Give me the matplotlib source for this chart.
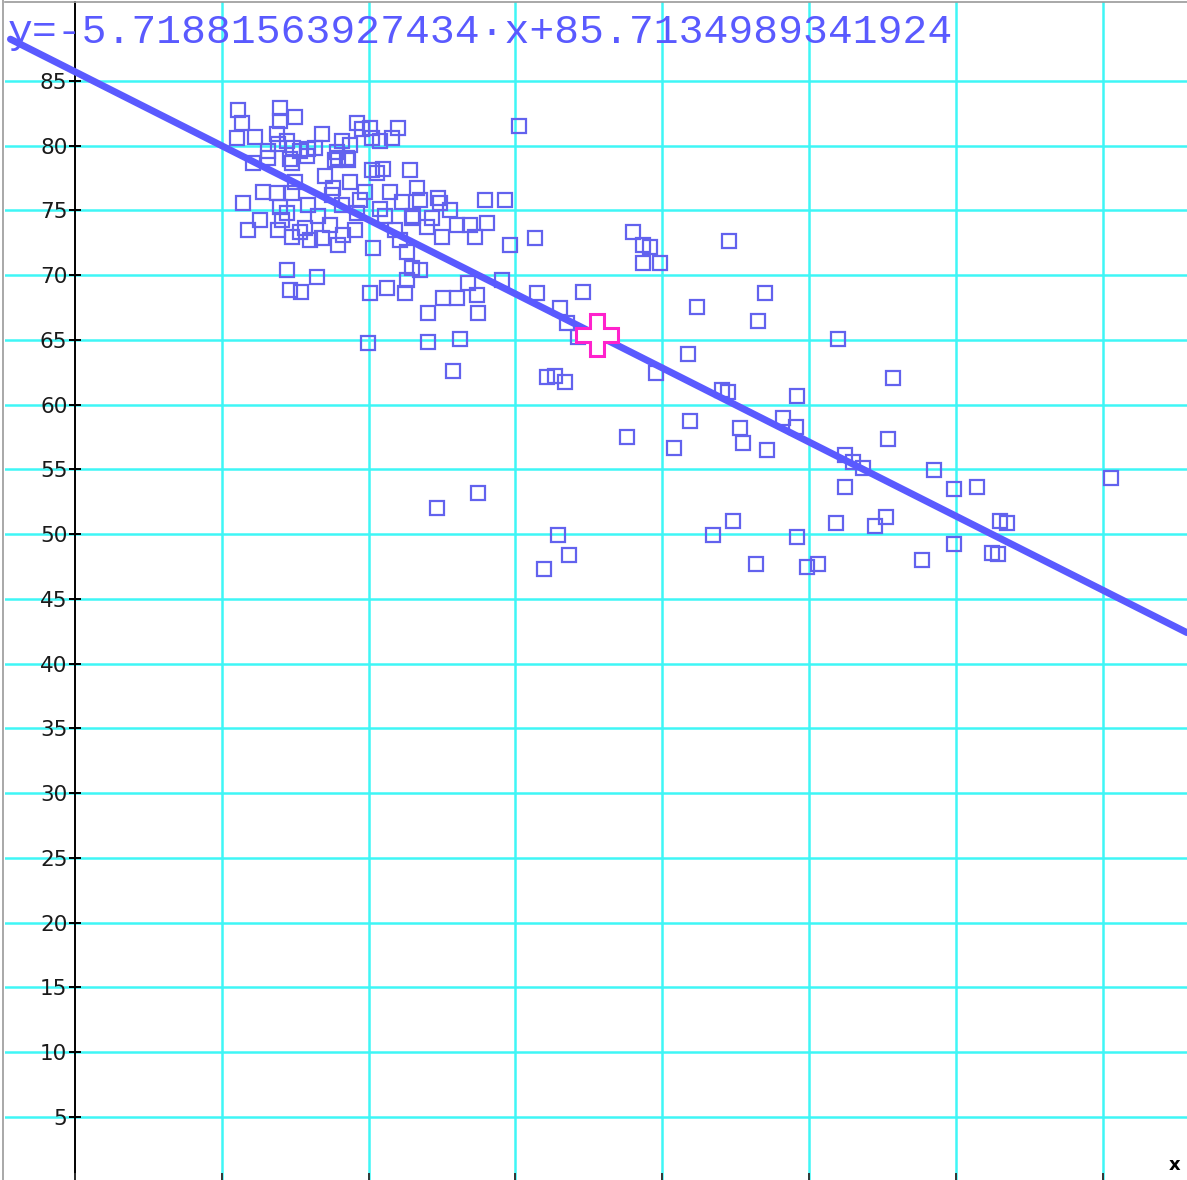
import matplotlib
matplotlib.use("Agg")
import matplotlib.pyplot as plt
from matplotlib.lines import Line2D

# ---- data ----
x_vals = [
    1.110, 1.396, 1.499, 1.138, 1.396, 1.104, 1.226, 1.376, 1.444, 1.383,
    1.485, 1.683, 1.635, 1.587, 1.580, 1.785, 1.819, 1.921, 1.955, 1.873,
    1.792, 1.853, 1.771, 1.860, 1.315, 1.465, 1.478, 2.023, 2.023, 1.376,
    1.478, 1.499, 1.757, 1.751, 1.975, 1.144, 1.396, 1.444, 1.587, 1.819,
    1.921, 1.410, 2.200, 2.159, 2.078, 2.010, 3.025, 2.098, 2.057, 2.282,
    2.330, 2.146, 2.228, 2.473, 2.486, 2.555, 2.078, 2.793, 2.929, 2.302,
    2.807, 1.178, 1.260, 1.383, 1.478, 1.567, 1.683, 1.826, 1.792, 1.444,
    1.649, 1.465, 1.540, 2.010, 1.996, 2.030, 2.262, 2.296, 2.350, 2.262,
    2.125, 2.248, 2.507, 2.602, 2.677, 2.738, 2.405, 2.745, 2.405, 2.623,
    2.963, 3.134, 2.500, 2.725, 2.909, 2.398, 2.602, 2.296, 2.575, 3.147,
    3.460, 3.304, 3.351, 3.426, 3.215, 3.270, 3.338, 3.760, 2.745, 2.466,
    3.290, 3.365, 3.195, 3.801, 3.869, 3.917, 3.869, 3.985, 4.455, 4.700,
    4.237, 4.653, 5.198, 4.176, 3.958, 4.407, 4.448, 5.572, 4.918, 4.189,
    4.530, 4.550, 4.714, 4.823, 4.911, 4.080, 5.245, 5.300, 5.368, 5.538,
    5.245, 4.482, 4.346, 5.184, 5.450, 5.525, 4.918, 4.639, 4.986, 5.061,
    5.770, 5.852, 5.988, 5.988, 6.144, 6.247, 6.287, 6.301, 6.349, 7.057,
    1.533, 1.703, 1.873, 1.941, 2.180, 2.214, 2.112, 2.350, 2.691, 1.655,
    1.737, 1.315, 1.213, 1.281, 1.601, 1.907, 2.432, 1.533,
]
y_vals = [
    82.79, 82.95, 82.25, 81.79, 81.94, 80.63, 80.71, 80.94, 80.40, 80.17,
    79.86, 80.94, 79.86, 79.78, 79.24, 79.48, 80.40, 81.79, 81.33, 80.02,
    79.09, 79.09, 78.86, 78.86, 79.09, 79.01, 78.63, 80.56, 78.09, 76.31,
    76.31, 77.16, 76.70, 76.16, 76.39, 75.54, 75.23, 74.77, 75.39, 75.39,
    74.77, 74.23, 81.40, 80.63, 80.40, 81.40, 81.56, 78.24, 77.93, 78.09,
    76.70, 76.39, 75.62, 75.93, 75.54, 75.00, 75.15, 75.77, 75.77, 74.61,
    74.00, 73.46, 74.23, 73.46, 72.92, 73.61, 72.84, 73.07, 72.30, 70.37,
    69.83, 68.83, 68.67, 68.60, 64.74, 72.07, 71.76, 70.52, 70.37, 69.60,
    68.98, 68.60, 68.21, 68.21, 69.37, 68.44, 67.05, 67.05, 64.81, 65.05,
    72.30, 72.84, 72.92, 72.92, 69.60, 73.69, 73.84, 74.38, 62.58, 68.60,
    68.67, 67.44, 66.28, 65.20, 62.11, 62.19, 61.73, 57.48, 53.16, 52.01,
    49.92, 48.38, 47.30, 73.30, 72.30, 72.15, 70.91, 70.91, 72.61, 68.60,
    67.52, 66.43, 65.05, 63.89, 62.42, 61.11, 60.96, 62.04, 60.65, 58.72,
    58.18, 57.02, 56.48, 58.95, 58.26, 56.64, 56.10, 55.56, 55.09, 57.33,
    53.63, 51.00, 49.92, 50.85, 50.62, 51.31, 49.77, 47.69, 47.45, 47.69,
    47.99, 54.94, 49.23, 53.47, 53.63, 48.53, 48.46, 51.00, 50.85, 54.32,
    79.63, 77.70, 77.16, 75.77, 73.46, 72.69, 74.61, 75.77, 73.84, 74.61,
    73.84, 79.63, 78.63, 76.39, 72.69, 73.46, 74.38, 73.30,
]
slope = -5.71881563927434
intercept = 85.7134989341924
mean_x = 3.556
line_x_start = -0.44
y_ticks = [5, 10, 15, 20, 25, 30, 35, 40, 45, 50, 55, 60, 65, 70, 75, 80, 85]
x_grid = [1, 2, 3, 4, 5, 6, 7]
equation = "y=-5.71881563927434\u00b7x+85.7134989341924"

# ---- figure ----
W, H = 1187, 1180
fig = plt.figure(figsize=(W / 100, H / 100), dpi=100)
ax = fig.add_axes([5 / W, 0, 1 - 5 / W, 1 - 2 / H])

xmin, xmax = -0.477, 7.575
ymin, ymax = 0.12, 91.1
ax.set_xlim(xmin, xmax)
ax.set_ylim(ymin, ymax)

grid_c = "#3ff6f6"
for gx in x_grid:
    ax.axvline(gx, color=grid_c, lw=1.8, zorder=1)
for gy in y_ticks:
    ax.axhline(gy, color=grid_c, lw=1.8, zorder=1)

# spines
for s in ["right", "bottom"]:
    ax.spines[s].set_visible(False)
ax.spines["top"].set_color("#9a9a9a")
ax.spines["top"].set_linewidth(1.2)
ax.spines["left"].set_position(("data", 0))
ax.spines["left"].set_color("black")
ax.spines["left"].set_linewidth(1.4)
ax.spines["left"].set_zorder(2)

ax.set_yticks(y_ticks)
ax.set_yticklabels([str(t) for t in y_ticks])
ax.tick_params(axis="y", direction="inout", length=9, width=1.4, color="black",
               labelsize=15.5, pad=1, labelcolor="#1a1a1a")
ax.set_xticks(x_grid)
ax.set_xticklabels([])
ax.tick_params(axis="x", length=0)
for gx in x_grid + [0]:
    ax.plot([gx, gx], [ymin, ymin + 0.5], color="#333333", lw=1.4, zorder=3,
            clip_on=False)

# gray left frame
fig.add_artist(Line2D([3 / W, 3 / W], [0, 1], color="#9a9a9a", lw=1.2))

# data points
ax.plot(x_vals, y_vals, linestyle="none", marker="s", markersize=10,
        markerfacecolor="none", markeredgecolor="#6262ee", markeredgewidth=1.6,
        zorder=4)

# regression line
lx = [line_x_start, xmax]
ly = [slope * v + intercept for v in lx]
ax.plot(lx, ly, color="#5a5aff", lw=5, solid_capstyle="round", zorder=5)

# mean point
mean_y = slope * mean_x + intercept
ax.plot([mean_x], [mean_y], marker="P", markersize=30, markerfacecolor="white",
        markeredgecolor="#ff22cc", markeredgewidth=2.2, zorder=6)

# equation
fig.text(8 / W, 1 - 43 / H, equation, family="Liberation Mono", fontsize=29.8,
         color="#5a5aff", va="baseline", ha="left", zorder=10)

# axis label
fig.text(1175 / W, 1 - 1165 / H, "x", fontsize=13, fontweight="bold",
         color="black", ha="center", va="center")

fig.savefig("out.png", dpi=100)
